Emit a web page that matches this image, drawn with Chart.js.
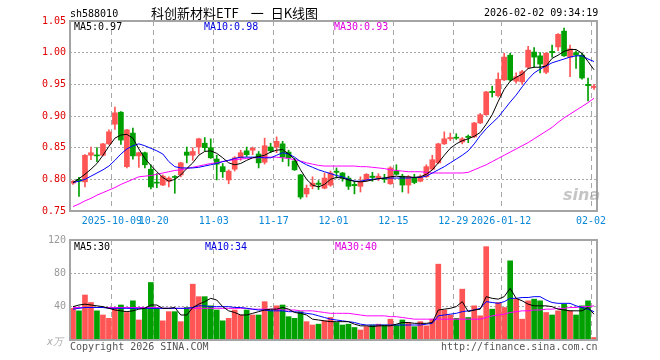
<!DOCTYPE html>
<html>
<head>
<meta charset="utf-8">
<script src="https://cdn.jsdelivr.net/npm/chart.js@4.4.1/dist/chart.umd.min.js"></script>
<style>
  body { margin: 0; background: #fff; }
  #wrap { position: relative; width: 660px; height: 360px; overflow: hidden; }
  canvas { position: absolute; left: 0; top: 0; }
  .t { position: absolute; font: 10px/10px "DejaVu Sans Mono", monospace; white-space: nowrap; }
</style>
</head>
<body>
<div id="wrap">
  <canvas id="kChart" width="660" height="360"></canvas>
  <canvas id="volChart" width="660" height="360"></canvas>
  <div class="t" style="left:70px;top:9px;color:#000">sh588010</div>
  <div class="t" style="left:151px;top:6px;font:13px/13px 'Noto Sans CJK SC',sans-serif;color:#000">科创新材料ETF<span style="margin:0 7px 0 12px">一</span>日K线图</div>
  <div class="t" style="left:484px;top:8px;color:#000">2026-02-02 09:34:19</div>
  <div class="t" style="left:74px;top:22px;color:#000">MA5:0.97</div>
  <div class="t" style="left:204px;top:22px;color:#0000e0">MA10:0.98</div>
  <div class="t" style="left:334px;top:22px;color:#e000e0">MA30:0.93</div>
  <div class="t" style="left:563px;top:187px;font:italic bold 16px/16px 'DejaVu Sans',sans-serif;color:rgba(150,150,150,0.55)">sina</div>
  <div class="t" style="left:74px;top:242px;color:#000">MA5:30</div>
  <div class="t" style="left:205px;top:242px;color:#0000e0">MA10:34</div>
  <div class="t" style="left:335px;top:242px;color:#e000e0">MA30:40</div>
  <div class="t" style="left:47px;top:337px;color:#aaa;font-style:italic">x万</div>
  <div class="t" style="left:70px;top:342px;color:#555">Copyright 2026 SINA.COM</div>
  <div class="t" style="left:441px;top:342px;color:#555">http://finance.sina.com.cn</div>
</div>
<script>
const dates = [
  '2025-09-22','2025-09-23','2025-09-24','2025-09-25','2025-09-26','2025-09-29','2025-09-30',
  '2025-10-09','2025-10-10','2025-10-13','2025-10-14','2025-10-15','2025-10-16','2025-10-17',
  '2025-10-20','2025-10-21','2025-10-22','2025-10-23','2025-10-24','2025-10-27','2025-10-28',
  '2025-10-29','2025-10-30','2025-10-31',
  '2025-11-03','2025-11-04','2025-11-05','2025-11-06','2025-11-07','2025-11-10','2025-11-11',
  '2025-11-12','2025-11-13','2025-11-14','2025-11-17','2025-11-18','2025-11-19','2025-11-20',
  '2025-11-21','2025-11-24','2025-11-25','2025-11-26','2025-11-27','2025-11-28',
  '2025-12-01','2025-12-02','2025-12-03','2025-12-04','2025-12-05','2025-12-08','2025-12-09',
  '2025-12-10','2025-12-11','2025-12-12','2025-12-15','2025-12-16','2025-12-17','2025-12-18',
  '2025-12-19','2025-12-22','2025-12-23','2025-12-24','2025-12-25','2025-12-26','2025-12-29',
  '2025-12-30','2025-12-31',
  '2026-01-05','2026-01-06','2026-01-07','2026-01-08','2026-01-09','2026-01-12','2026-01-13',
  '2026-01-14','2026-01-15','2026-01-16','2026-01-19','2026-01-20','2026-01-21','2026-01-22',
  '2026-01-23','2026-01-26','2026-01-27','2026-01-28','2026-01-29','2026-01-30',
  '2026-02-02'
];
const tickDates = ['2025-10-09','2025-10-20','2025-11-03','2025-11-17','2025-12-01','2025-12-15','2025-12-29','2026-01-12','2026-02-02'];
const tickLabels = ['2025-10-09','10-20','11-03','11-17','12-01','12-15','12-29','2026-01-12','02-02'];

const opens = [
  0.794,0.800,0.796,0.838,0.838,0.838,0.856,0.887,0.906,0.820,0.873,0.837,0.842,0.816,0.795,0.791,0.797,0.804,0.807,0.843,
  0.838,0.851,0.857,0.850,0.832,0.820,0.799,0.816,0.834,0.845,0.846,0.840,0.827,0.851,0.851,0.856,0.843,0.829,0.807,0.777,
  0.789,0.794,0.786,0.791,0.813,0.810,0.802,0.792,0.789,0.799,0.805,0.802,0.801,0.793,0.813,0.805,0.791,0.802,0.797,0.804,
  0.816,0.826,0.856,0.864,0.866,0.859,0.868,0.867,0.889,0.902,0.939,0.932,0.957,0.996,0.955,0.954,0.977,1.001,0.995,0.969,
  1.002,1.009,1.034,0.993,1.000,0.996,0.950,0.945
];
const closes = [
  0.797,0.797,0.838,0.842,0.837,0.856,0.875,0.905,0.862,0.878,0.837,0.842,0.823,0.788,0.794,0.805,0.802,0.803,0.826,0.838,
  0.844,0.864,0.850,0.834,0.824,0.812,0.813,0.834,0.842,0.839,0.849,0.826,0.853,0.845,0.860,0.835,0.834,0.815,0.772,0.786,
  0.794,0.792,0.802,0.810,0.811,0.802,0.789,0.790,0.796,0.808,0.803,0.805,0.800,0.818,0.808,0.791,0.804,0.795,0.804,0.820,
  0.831,0.856,0.864,0.866,0.865,0.864,0.866,0.889,0.902,0.938,0.937,0.958,0.993,0.957,0.962,0.970,1.004,0.993,0.982,0.999,
  1.000,1.029,0.995,1.006,0.996,0.960,0.948,0.947
];
const highs = [
  0.798,0.803,0.839,0.851,0.850,0.857,0.878,0.914,0.907,0.879,0.881,0.843,0.843,0.823,0.809,0.807,0.804,0.806,0.827,0.851,
  0.850,0.865,0.866,0.864,0.838,0.825,0.815,0.836,0.846,0.851,0.851,0.844,0.865,0.857,0.867,0.860,0.846,0.833,0.808,0.791,
  0.804,0.798,0.810,0.813,0.818,0.811,0.805,0.797,0.804,0.809,0.811,0.809,0.808,0.820,0.823,0.808,0.806,0.808,0.807,0.823,
  0.838,0.857,0.875,0.873,0.872,0.866,0.870,0.890,0.904,0.939,0.947,0.968,0.999,0.999,0.968,0.972,1.010,1.008,1.000,1.000,
  1.012,1.030,1.039,1.012,1.003,0.999,0.960,0.950
];
const lows = [
  0.792,0.773,0.788,0.831,0.828,0.837,0.855,0.879,0.855,0.818,0.832,0.819,0.818,0.785,0.787,0.790,0.788,0.778,0.804,0.826,
  0.830,0.840,0.845,0.833,0.799,0.803,0.793,0.813,0.830,0.836,0.839,0.818,0.824,0.842,0.842,0.828,0.821,0.814,0.769,0.772,
  0.785,0.784,0.785,0.789,0.802,0.797,0.784,0.777,0.780,0.797,0.797,0.798,0.795,0.792,0.807,0.780,0.778,0.793,0.796,0.803,
  0.815,0.825,0.855,0.861,0.863,0.856,0.858,0.866,0.888,0.901,0.930,0.930,0.956,0.955,0.952,0.950,0.975,0.977,0.968,0.967,
  0.993,1.003,0.994,0.962,0.975,0.958,0.924,0.942
];
const ma5 = [
  0.795,0.801,0.808,0.816,0.825,0.838,0.852,0.865,0.870,0.871,0.865,0.848,0.833,0.822,0.812,0.803,0.797,0.800,0.807,0.817,
  0.826,0.838,0.844,0.845,0.841,0.834,0.826,0.823,0.825,0.830,0.834,0.836,0.838,0.843,0.846,0.847,0.840,0.832,0.815,0.800,
  0.791,0.788,0.792,0.800,0.803,0.802,0.799,0.797,0.796,0.797,0.799,0.801,0.802,0.804,0.805,0.804,0.804,0.803,0.804,0.808,
  0.815,0.826,0.838,0.849,0.856,0.861,0.864,0.868,0.874,0.887,0.902,0.923,0.942,0.955,0.961,0.966,0.975,0.977,0.977,0.979,
  0.991,0.996,1.002,1.005,1.005,0.999,0.986,0.973
];
const ma10 = [
  0.795,0.797,0.800,0.805,0.810,0.815,0.821,0.830,0.840,0.848,0.853,0.856,0.853,0.849,0.845,0.840,0.828,0.820,0.818,0.818,
  0.818,0.819,0.821,0.823,0.825,0.828,0.830,0.833,0.835,0.835,0.835,0.835,0.834,0.834,0.838,0.842,0.840,0.835,0.828,0.823,
  0.819,0.815,0.812,0.809,0.806,0.804,0.800,0.797,0.797,0.799,0.800,0.801,0.802,0.802,0.802,0.802,0.802,0.803,0.803,0.805,
  0.810,0.815,0.820,0.826,0.832,0.838,0.845,0.856,0.869,0.880,0.889,0.898,0.910,0.922,0.933,0.946,0.958,0.968,0.974,0.979,
  0.984,0.987,0.990,0.993,0.995,0.995,0.990,0.986
];
const ma30 = [
  0.757,0.761,0.766,0.770,0.775,0.779,0.783,0.787,0.792,0.796,0.800,0.804,0.805,0.806,0.808,0.810,0.812,0.814,0.815,0.817,
  0.819,0.821,0.823,0.825,0.826,0.828,0.830,0.831,0.832,0.833,0.834,0.834,0.835,0.835,0.835,0.834,0.833,0.831,0.829,0.826,
  0.824,0.822,0.821,0.821,0.821,0.821,0.821,0.821,0.820,0.820,0.819,0.818,0.817,0.815,0.814,0.813,0.812,0.812,0.812,0.811,
  0.810,0.810,0.810,0.810,0.810,0.810,0.811,0.815,0.819,0.823,0.828,0.833,0.838,0.843,0.848,0.853,0.858,0.864,0.870,0.876,
  0.882,0.890,0.897,0.903,0.909,0.915,0.921,0.928
];
const volumes = [
  38,35,54,45,35,30,26,39,42,33,47,24,38,69,38,23,34,34,22,39,
  67,52,52,41,36,23,26,36,30,36,30,30,46,36,41,42,28,26,34,22,
  18,19,23,27,21,18,19,15,12,16,18,19,18,25,18,24,21,16,22,17,
  25,91,36,30,26,61,27,41,29,112,37,45,39,95,49,25,47,49,47,33,
  30,35,43,35,30,41,47,3
];
const volMa5 = [
  40,42,43,42,41,40,38,36,35,34,35,37,38,42,42,38,38,39,30,30,
  39,43,46,50,48,40,35,33,30,30,32,34,36,37,37,39,37,33,32,30,
  25,24,23,22,22,22,22,19,17,17,16,17,17,17,19,21,21,20,20,20,
  21,36,37,38,40,46,34,36,37,52,50,49,52,62,50,47,43,41,41,41,
  40,37,36,35,35,35,39,31
];
const volMa10 = [
  37,38,39,39,39,39,38,38,38,38,38,38,38,38,38,38,38,38,38,38,
  39,41,41,40,40,40,40,39,39,38,37,36,36,35,35,35,34,34,33,32,
  31,29,27,25,24,23,22,21,19,18,18,18,18,18,18,18,18,18,18,19,
  20,29,30,31,32,34,35,36,38,46,45,44,46,50,50,51,51,52,52,48,
  45,44,44,44,41,39,37,34
];
const volMa30 = [
  39,39,39,39,39,39,39,39,39,39,39,39,39,39,39,38,38,38,38,38,
  38,38,38,38,38,38,38,38,38,38,37,37,37,37,37,36,36,36,35,35,
  35,34,33,32,32,32,32,31,30,29,29,29,29,28,28,27,26,25,25,25,
  25,25,25,25,25,25,25,25,25,27,29,30,31,33,34,35,35,36,36,37,
  37,38,38,39,39,40,40,41
];

const mono = '"DejaVu Sans Mono", monospace';
const upColor = '#ff5555';
const downColor = '#00a000';
const candleColors = opens.map((o, i) => closes[i] >= o ? upColor : downColor);
const tickText = {};
tickDates.forEach((d, k) => { tickText[d] = tickLabels[k]; });

// plot box drawn on top of everything
const frame = {
  id: 'frame',
  afterDraw(chart) {
    const { ctx, chartArea: a } = chart;
    ctx.save();
    ctx.strokeStyle = '#a4a4a4';
    ctx.lineWidth = 2;
    ctx.strokeRect(a.left, a.top, a.right - a.left, a.bottom - a.top);
    ctx.restore();
  }
};

function maLine(data, color) {
  return { type: 'line', data: data, borderColor: color, borderWidth: 1, pointRadius: 0, tension: 0, order: 0 };
}

function xScale(showLabels) {
  return {
    offset: true,
    grid: {
      offset: true,
      drawTicks: false,
      lineWidth: 1,
      color: c => tickText[dates[c.index]] ? '#a8a8a8' : 'rgba(0,0,0,0)'
    },
    border: { display: false, dash: [5, 4] },
    ticks: {
      display: showLabels,
      autoSkip: false,
      maxRotation: 0,
      minRotation: 0,
      padding: 4,
      labelOffset: -3,
      color: '#0a88d8',
      font: { family: mono, size: 10 },
      callback: (v, i) => tickText[dates[i]] || ''
    },
    afterFit: s => { s.height = showLabels ? 19 : 0; }
  };
}

new Chart(document.getElementById('kChart'), {
  type: 'bar',
  data: {
    labels: dates,
    datasets: [
      maLine(ma5, '#000000'),
      maLine(ma10, '#0000ff'),
      maLine(ma30, '#ff00ff'),
      { data: lows.map((l, i) => [l, highs[i]]), backgroundColor: candleColors, barThickness: 1, grouped: false, order: 2 },
      { data: opens.map((o, i) => [o, closes[i]]), backgroundColor: candleColors, barThickness: 5, minBarLength: 1, grouped: false, order: 1 }
    ]
  },
  options: {
    responsive: false,
    animation: false,
    layout: { padding: { left: 0, right: 63, top: 21, bottom: 130 } },
    plugins: { legend: { display: false }, tooltip: { enabled: false } },
    scales: {
      x: xScale(true),
      y: {
        min: 0.75,
        max: 1.05,
        ticks: { stepSize: 0.05, padding: 4, color: '#e00000', font: { family: mono, size: 10 }, callback: v => v.toFixed(2) },
        grid: { color: '#a8a8a8', drawTicks: false },
        border: { display: false, dash: [2, 2] },
        afterFit: s => { s.width = 70; }
      }
    }
  },
  plugins: [frame]
});

new Chart(document.getElementById('volChart'), {
  type: 'bar',
  data: {
    labels: dates,
    datasets: [
      maLine(volMa5, '#000000'),
      maLine(volMa10, '#0000ff'),
      maLine(volMa30, '#ff00ff'),
      { data: volumes, backgroundColor: candleColors, barThickness: 5, grouped: false, order: 1 }
    ]
  },
  options: {
    responsive: false,
    animation: false,
    layout: { padding: { left: 0, right: 63, top: 240, bottom: 20 } },
    plugins: { legend: { display: false }, tooltip: { enabled: false } },
    scales: {
      x: xScale(false),
      y: {
        min: 0,
        max: 120,
        ticks: { stepSize: 40, padding: 4, color: '#999', font: { family: mono, size: 10 }, callback: v => v === 0 ? '' : v },
        grid: { color: '#a8a8a8', drawTicks: false },
        border: { display: false, dash: [2, 2] },
        afterFit: s => { s.width = 70; }
      }
    }
  },
  plugins: [frame]
});
</script>
</body>
</html>
